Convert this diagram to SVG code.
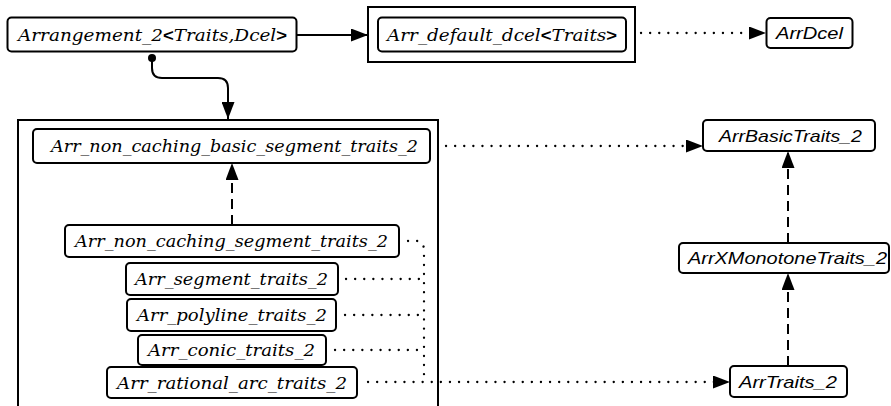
<svg xmlns="http://www.w3.org/2000/svg" width="891" height="406" viewBox="0 0 891 406">
  <style>
    .box { fill: #ffffff; stroke: #000000; stroke-width: 2; }
    .frame { fill: none; stroke: #000000; stroke-width: 2; }
    .cls { font-family: "DejaVu Serif", "Liberation Serif", serif; font-style: italic; font-size: 16px; fill: #000000; }
    .cpt { font-family: "Liberation Sans", "DejaVu Sans", sans-serif; font-style: italic; font-size: 17px; fill: #000000; }
    .sym { font-family: "Liberation Sans", "DejaVu Sans", sans-serif; font-style: normal; font-weight: bold; }
    .solid { fill: none; stroke: #000000; stroke-width: 2; }
    .dash { fill: none; stroke: #000000; stroke-width: 2; stroke-dasharray: 10 6; }
    .dot { fill: none; stroke: #000000; stroke-width: 2.3; stroke-linecap: round; stroke-dasharray: 0.1 9; }
  </style>
  <defs>
    <marker id="head" markerUnits="userSpaceOnUse" markerWidth="17" markerHeight="13" refX="17" refY="6.5" orient="auto">
      <path d="M0,0 L17,6.5 L0,13 Z" fill="#000000"/>
    </marker>
  </defs>

  <rect width="891" height="406" fill="#ffffff"/>

  <!-- Connectors -->
  <g id="connectors">
    <!-- Arrangement_2 -> default dcel -->
    <line class="solid" x1="296" y1="35" x2="368" y2="35" marker-end="url(#head)"/>
    <!-- default dcel realizes ArrDcel -->
    <line class="dot" x1="641" y1="33" x2="758" y2="33"/>
    <line x1="750" y1="33" x2="766" y2="33" stroke="none" marker-end="url(#head)"/>
    <!-- Arrangement_2 uses the traits classes -->
    <circle cx="152" cy="58" r="4" fill="#000000"/>
    <path class="solid" d="M152,58 L152,68 Q152,78 162,78 L218,78 Q228,78 228,88 L228,119" marker-end="url(#head)"/>
    <!-- non caching segment -> non caching basic segment -->
    <path class="dash" d="M232,225 L232,163" marker-end="url(#head)"/>
    <!-- non caching basic -> ArrBasicTraits_2 -->
    <line class="dot" x1="446" y1="146" x2="694" y2="146"/>
    <line x1="690" y1="146" x2="703" y2="146" stroke="none" marker-end="url(#head)"/>
    <!-- concept refinement chain -->
    <path class="dash" d="M788,243 L788,151" marker-end="url(#head)"/>
    <path class="dash" d="M788,366 L788,273" marker-end="url(#head)"/>
    <!-- traits models -> ArrTraits_2 -->
    <path class="dot" d="M408,241 L418,241 Q424,243 424,250 L424,382"/>
    <line class="dot" x1="346" y1="279" x2="424" y2="279"/>
    <line class="dot" x1="345" y1="315" x2="424" y2="315"/>
    <line class="dot" x1="335" y1="350" x2="424" y2="350"/>
    <line class="dot" x1="368" y1="382" x2="721" y2="382"/>
    <line x1="715" y1="382" x2="730" y2="382" stroke="none" marker-end="url(#head)"/>
  </g>

  <!-- Container of the traits classes -->
  <rect class="frame" x="18" y="120" width="420" height="300"/>

  <g id="arrangement_2">
    <rect class="box" x="7.5" y="17.5" width="289" height="34" rx="4"/>
    <text class="cls" x="18" y="41" textLength="269" lengthAdjust="spacingAndGlyphs">Arrangement_2<tspan class="sym">&lt;</tspan>Traits,Dcel<tspan class="sym">&gt;</tspan></text>
  </g>

  <g id="arr_default_dcel">
    <rect class="frame" x="368" y="7" width="267" height="55"/>
    <rect class="box" x="378" y="17.5" width="248" height="34" rx="4"/>
    <text class="cls" x="387" y="41" textLength="230" lengthAdjust="spacingAndGlyphs">Arr_default_dcel<tspan class="sym">&lt;</tspan>Traits<tspan class="sym">&gt;</tspan></text>
  </g>

  <g id="arr_dcel">
    <rect class="box" x="766.5" y="18" width="86" height="30" rx="4"/>
    <text class="cpt" x="776" y="39" textLength="67" lengthAdjust="spacingAndGlyphs">ArrDcel</text>
  </g>

  <g id="arr_non_caching_basic_segment_traits_2">
    <rect class="box" x="33" y="129" width="397" height="34" rx="4"/>
    <text class="cls" x="51" y="152" textLength="367" lengthAdjust="spacingAndGlyphs">Arr_non_caching_basic_segment_traits_2</text>
  </g>

  <g id="arr_non_caching_segment_traits_2">
    <rect class="box" x="65" y="225" width="334" height="32" rx="4"/>
    <text class="cls" x="75" y="247" textLength="313" lengthAdjust="spacingAndGlyphs">Arr_non_caching_segment_traits_2</text>
  </g>

  <g id="arr_segment_traits_2">
    <rect class="box" x="126" y="263" width="212" height="32" rx="4"/>
    <text class="cls" x="135" y="285" textLength="193" lengthAdjust="spacingAndGlyphs">Arr_segment_traits_2</text>
  </g>

  <g id="arr_polyline_traits_2">
    <rect class="box" x="127" y="299" width="209" height="32" rx="4"/>
    <text class="cls" x="137" y="321" textLength="190" lengthAdjust="spacingAndGlyphs">Arr_polyline_traits_2</text>
  </g>

  <g id="arr_conic_traits_2">
    <rect class="box" x="138" y="335" width="188" height="30" rx="4"/>
    <text class="cls" x="148" y="356" textLength="167" lengthAdjust="spacingAndGlyphs">Arr_conic_traits_2</text>
  </g>

  <g id="arr_rational_arc_traits_2">
    <rect class="box" x="107" y="367" width="250" height="31" rx="4"/>
    <text class="cls" x="117" y="389" textLength="230" lengthAdjust="spacingAndGlyphs">Arr_rational_arc_traits_2</text>
  </g>

  <g id="arr_basic_traits_2">
    <rect class="box" x="703" y="120" width="172" height="31" rx="4"/>
    <text class="cpt" x="719" y="142" textLength="143" lengthAdjust="spacingAndGlyphs">ArrBasicTraits_2</text>
  </g>

  <g id="arr_x_monotone_traits_2">
    <rect class="box" x="679" y="243" width="210" height="30" rx="4"/>
    <text class="cpt" x="688" y="264" textLength="199" lengthAdjust="spacingAndGlyphs">ArrXMonotoneTraits_2</text>
  </g>

  <g id="arr_traits_2">
    <rect class="box" x="730" y="366" width="117" height="31" rx="4"/>
    <text class="cpt" x="739" y="388" textLength="98" lengthAdjust="spacingAndGlyphs">ArrTraits_2</text>
  </g>
</svg>
